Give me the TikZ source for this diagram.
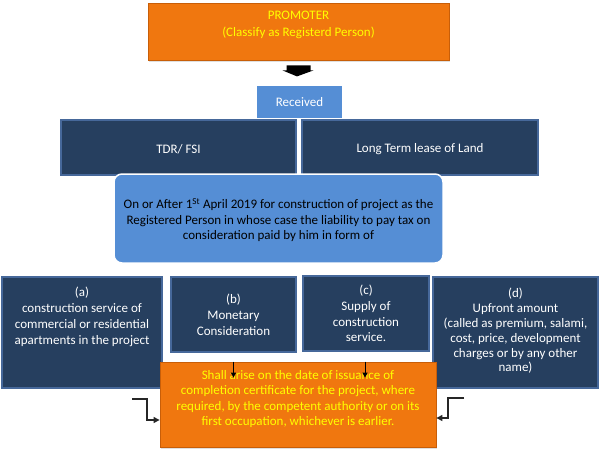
\documentclass[tikz,border=0pt]{standalone}
\usepackage{fontspec}
\setmainfont{Carlito}
\usetikzlibrary{arrows.meta,shadows}
\definecolor{orng}{HTML}{F0770F}
\definecolor{orngdark}{HTML}{C85E08}
\definecolor{yell}{HTML}{FFFF00}
\definecolor{navy}{HTML}{263F5F}
\definecolor{navyedge}{HTML}{46689A}
\definecolor{midblue}{HTML}{558ED5}
\tikzset{
  orangebox/.style={draw=orngdark, line width=0.8pt, fill=orng, inner sep=0pt,
    drop shadow={opacity=0.25, shadow xshift=1.2pt, shadow yshift=-1.5pt}},
  yelltext/.style={text=yell, align=center, inner sep=0pt},
  navybox/.style={draw=navyedge, line width=1.3pt, fill=navy, text=white, align=center, inner sep=0pt},
  bluebox/.style={fill=midblue, align=center, inner sep=0pt},
  tipline/.style={draw=black!85, line width=1.2pt, -{Triangle[length=6pt,width=6pt]}},
}
\begin{document}
\begin{tikzpicture}[x=1pt,y=-1pt, font=\fontsize{13}{15.5}\selectfont]
\useasboundingbox[fill=white] (0,0) rectangle (600,451);

% top promoter
\node[orangebox, minimum width=301, minimum height=57] (prom) at (298.5,31.5) {};
\node[yelltext, font=\fontsize{13}{17}\selectfont] (promtext) at (298.5,24.5) {PROMOTER\\(Classify as Registerd Person)};

% received
\node[bluebox, text=white, minimum width=85, minimum height=32] (recv) at (299.5,102) {Received};

% block arrow from promoter to received
\fill[black] ([xshift=-12pt,yshift=-5pt]prom.south) -- ([xshift=12pt,yshift=-5pt]prom.south)
  -- ([xshift=12pt,yshift=-10pt]prom.south) -- ([xshift=15pt,yshift=-10pt]prom.south)
  -- ([xshift=-1.5pt,yshift=-16pt]prom.south) -- ([xshift=-16pt,yshift=-10pt]prom.south)
  -- ([xshift=-12pt,yshift=-10pt]prom.south) -- cycle;

% TDR and lease
\node[navybox, minimum width=235, minimum height=55] (tdr) at (178.5,147.5) {};
\node[text=white, inner sep=0pt] (tdrtext) at (178.5,149) {TDR/ FSI};
\node[navybox, minimum width=236, minimum height=55] (lease) at (420,147.5) {};
\node[text=white, inner sep=0pt] (leasetext) at (420,149) {Long Term lease of Land};

% middle rounded box
\node[bluebox, draw=white, line width=1.5pt, rounded corners=8pt, minimum width=329, minimum height=89] (mid) at (278.5,218.5) {};
\node[align=center, inner sep=0pt] (midtext) at (278.5,220) {On or After 1\textsuperscript{St} April 2019 for construction of project as the\\Registered Person in whose case the liability to pay tax on\\consideration paid by him in form of};

% bottom boxes
\node[navybox, minimum width=160, minimum height=111] (a) at (82,332.5) {};
\node[text=white, align=center, inner sep=0pt, font=\fontsize{13}{16}\selectfont] (atext) at (82,317) {(a)\\construction service of\\commercial or residential\\apartments in the project};

\node[navybox, minimum width=125, minimum height=75, font=\fontsize{13}{16}\selectfont] (b) at (233.5,314.5) {(b)\\Monetary\\Consideration};

\node[navybox, minimum width=126, minimum height=75, font=\fontsize{13}{15.7}\selectfont] (c) at (366,313.5) {(c)\\Supply of\\construction\\service.};

\node[navybox, minimum width=165, minimum height=111] (d) at (515.5,332.5) {};
\node[text=white, align=center, inner sep=0pt, font=\fontsize{13}{14.8}\selectfont] (dtext) at (515.5,331) {(d)\\Upfront amount\\(called as premium, salami,\\cost, price, development\\charges or by any other\\name)};

% bottom orange
\node[orangebox, minimum width=276, minimum height=85] (fin) at (298,404.5) {};
\node[yelltext, font=\fontsize{13}{15.4}\selectfont] (fintext) at (298,399) {Shall arise on the date of issuance of\\completion certificate for the project, where\\required, by the competent authority or on its\\first occupation, whichever is earlier.};

% small arrows
\coordinate (bt) at (b.south |- fin.north);
\coordinate (ct) at ([xshift=-1pt]c.south |- fin.north);
\draw[line width=1pt, -{Triangle[length=5pt,width=5pt]}] (bt) -- ++(0,16);
\draw[line width=1pt, -{Triangle[length=5pt,width=5pt]}] (ct) -- ++(0,16);

% elbow arrows
\coordinate (lstart) at (132,399);
\coordinate (rstart) at (464,398);
\draw[tipline] (lstart) -- (147,399) -- (147,420) -- (fin.west |- 0,420);
\draw[tipline] (rstart) -- (448,398) -- (448,418) -- (fin.east |- 0,418);
\end{tikzpicture}
\end{document}
